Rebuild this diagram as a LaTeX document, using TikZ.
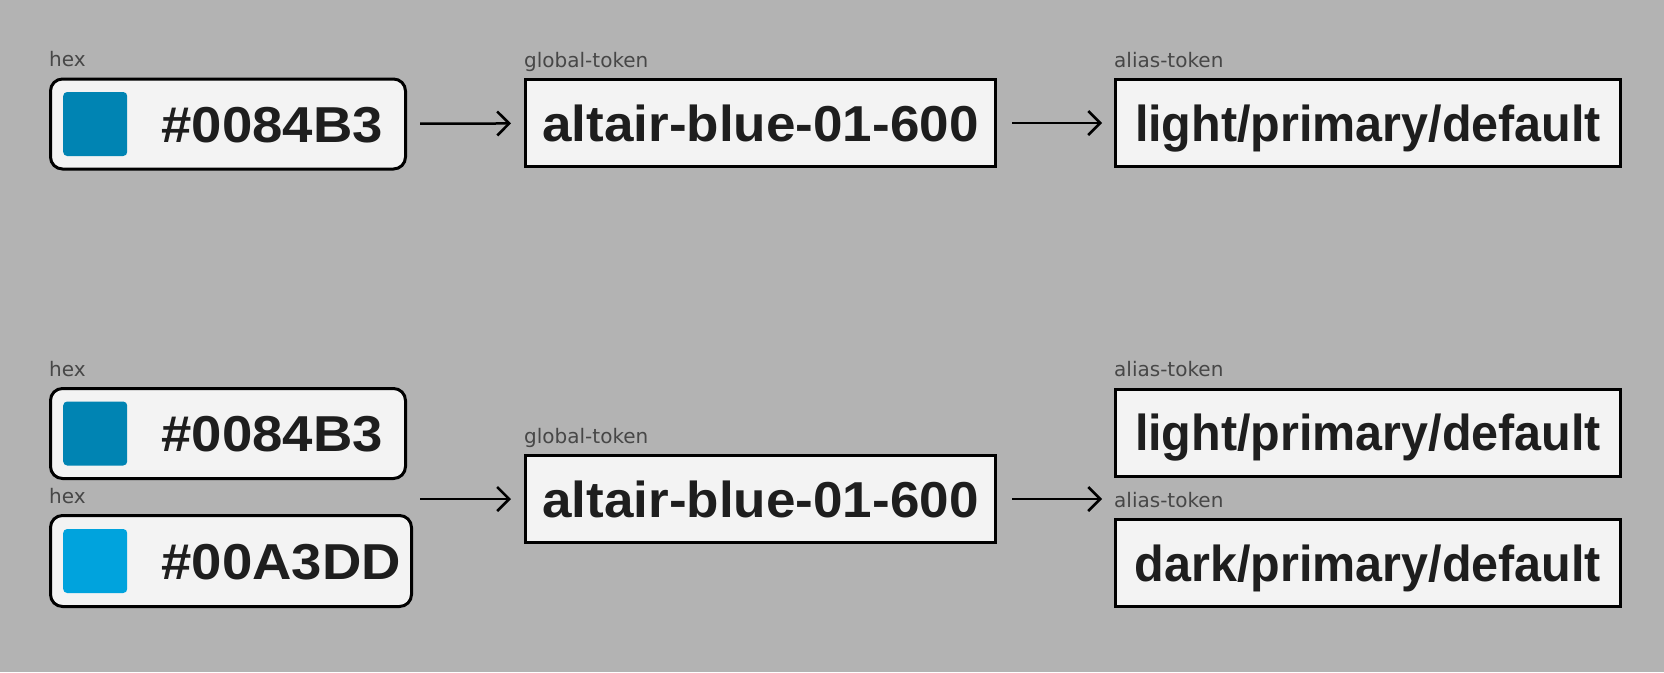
\documentclass[tikz,border=0pt]{standalone}
\usepackage{fontspec}
\setmainfont{Liberation Sans}
\newfontfamily\capfont{DejaVu Sans}
\newfontfamily\hexfont{Liberation Sans}[FakeStretch=1.08]
\newfontfamily\globfont{Liberation Sans}[FakeStretch=1.05]
\newfontfamily\aliasfont{Liberation Sans}[FakeStretch=0.96]
\usetikzlibrary{arrows.meta,positioning}
\definecolor{canvas}{HTML}{B3B3B3}
\definecolor{card}{HTML}{F3F3F3}
\definecolor{ink}{HTML}{1E1E1E}
\definecolor{capgray}{HTML}{474747}
\definecolor{hexdeep}{HTML}{0084B3}
\definecolor{hexsky}{HTML}{00A3DD}
\tikzset{
  hexbox/.style={draw=black,fill=card,line width=3pt,rounded corners=12pt,minimum width=355pt,minimum height=90pt,inner sep=0pt},
  tokenbox/.style={draw=black,fill=card,line width=3pt,minimum width=470pt,minimum height=87pt,inner sep=0pt,
    font=\globfont\fontsize{50.5}{60}\selectfont\bfseries,text=ink,text height=36pt,text depth=0pt},
  aliasbox/.style={tokenbox,minimum width=505pt,font=\aliasfont\fontsize{50.5}{60}\selectfont\bfseries},
  swatch/.style={rounded corners=4pt,minimum size=64pt,inner sep=0pt},
  hextext/.style={font=\hexfont\fontsize{50.5}{60}\selectfont\bfseries,text=ink,inner sep=0pt,text height=36pt,text depth=0pt},
  caption/.style={font=\capfont\fontsize{20}{24}\selectfont,text=capgray,inner sep=0pt},
  flow/.style={line width=2.5pt,-{Straight Barb[length=12pt,width=24pt]}}
}

\begin{document}
\begin{tikzpicture}[x=1pt,y=-1pt]
  \fill[canvas] (0,0) rectangle (1664,672);
  % top row: one hex -> one global token -> one alias token
  \node[hexbox] (hexA) at (228,124) {};
  \node[swatch,fill=hexdeep,right=14pt of hexA.west] (swA) {};
  \node[hextext,right=34pt of swA] {\#0084B3};
  \node[tokenbox] (globA) at (760.5,123) {altair-blue-01-600};
  \node[aliasbox] (aliasA) at (1368,123) {light/primary/default};
  \node[caption,above right=11pt and 0pt of hexA.north west,anchor=base west] {hex};
  \node[caption,above right=11pt and 0pt of globA.north west,anchor=base west] {global-token};
  \node[caption,above right=11pt and 0pt of aliasA.north west,anchor=base west] {alias-token};
  \draw[flow,shorten <=13pt,shorten >=13pt] (hexA) -- (globA);
  \draw[flow,shorten <=15pt,shorten >=12pt] (globA) -- (aliasA);
  % bottom row: two hex values share a global token, which feeds two alias tokens
  \node[hexbox] (hexB) at (228,433.5) {};
  \node[swatch,fill=hexdeep,right=14pt of hexB.west] (swB) {};
  \node[hextext,right=34pt of swB] {\#0084B3};
  \node[hexbox,minimum width=361pt,minimum height=91pt] (hexC) at (231,561) {};
  \node[swatch,fill=hexsky,right=14pt of hexC.west] (swC) {};
  \node[hextext,right=34pt of swC] {\#00A3DD};
  \node[tokenbox] (globB) at (760.5,499) {altair-blue-01-600};
  \node[aliasbox] (aliasB) at (1368,432.5) {light/primary/default};
  \node[aliasbox] (aliasC) at (1368,563) {dark/primary/default};
  \node[caption,above right=11pt and 0pt of hexB.north west,anchor=base west] {hex};
  \node[caption,above right=11pt and 0pt of hexC.north west,anchor=base west] {hex};
  \node[caption,above right=11pt and 0pt of globB.north west,anchor=base west] {global-token};
  \node[caption,above right=11pt and 0pt of aliasB.north west,anchor=base west] {alias-token};
  \node[caption,above right=11pt and 0pt of aliasC.north west,anchor=base west] {alias-token};
  \coordinate (hexjoin) at (hexB.east |- globB.west);
  \coordinate (aliasjoin) at (aliasC.west |- globB.east);
  \draw[flow,shorten <=13pt,shorten >=13pt] (hexjoin) -- (globB.west);
  \draw[flow,shorten <=15pt,shorten >=12pt] (globB.east) -- (aliasjoin);
\end{tikzpicture}
\end{document}
